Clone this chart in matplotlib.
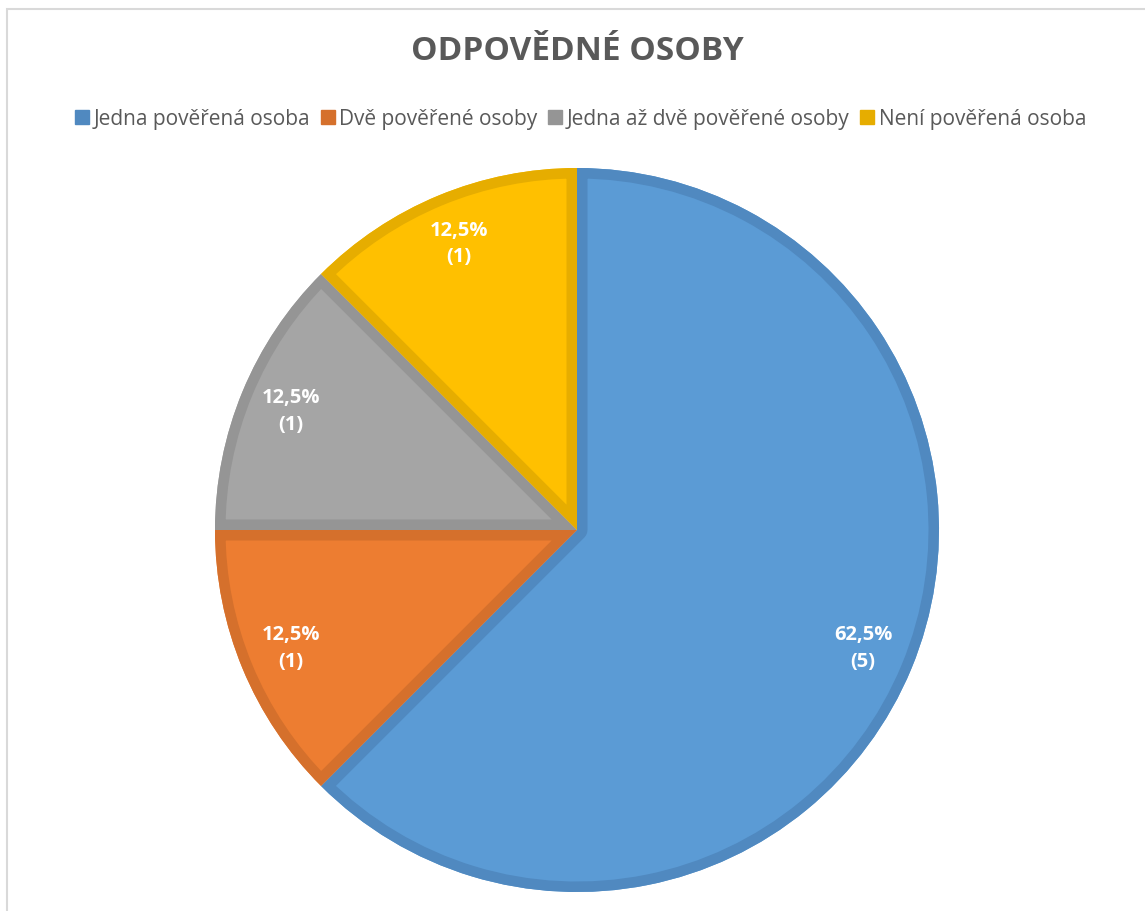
import matplotlib
matplotlib.use("Agg")
import matplotlib.pyplot as plt
from matplotlib.lines import Line2D
from matplotlib.patches import Rectangle, PathPatch

categories = ["Jedna pověřená osoba", "Dvě pověřené osoby",
              "Jedna až dvě pověřené osoby", "Není pověřená osoba"]
counts = [5, 1, 1, 1]
title = "ODPOVĚDNÉ OSOBY"

fills = ["#5B9BD5", "#ED7D31", "#A5A5A5", "#FFC000"]
edges = ["#5089C0", "#D5702C", "#959595", "#E6AD00"]

W, H = 1145, 911
fig = plt.figure(figsize=(W / 100, H / 100), dpi=100)
fig.patch.set_facecolor("white")
plt.rcParams['font.family'] = ['Open Sans', 'DejaVu Sans']

# chart frame
fig.patches.append(Rectangle((6.5 / W, -0.1), 2.0, (H - 8.5) / H + 0.1,
                             transform=fig.transFigure, fill=False,
                             edgecolor="#D9D9D9", linewidth=1.5))

cx, cy, R = 577, 530, 362
ax = fig.add_axes([(cx - R) / W, (H - cy - R) / H, 2 * R / W, 2 * R / H])
total = sum(counts)

def fmt(p):
    n = int(round(p * total / 100))
    return f"{p:.1f}".replace(".", ",") + f"%\n({n})"

border_px = 10.5
wedges, texts, autotexts = ax.pie(
    counts, colors=fills, startangle=90, counterclock=False,
    radius=1.0, autopct=fmt, pctdistance=0.855,
    wedgeprops=dict(linewidth=0),
    textprops=dict(color="white", fontsize=14.5, fontweight="bold",
                   linespacing=1.45))
# inner borders: stroke of double width clipped to the wedge itself
for w, e in zip(wedges, edges):
    pp = PathPatch(w.get_path(), transform=w.get_transform(), fill=False,
                   edgecolor=e, linewidth=2 * border_px * 0.72,
                   joinstyle="round", zorder=w.get_zorder() + 0.1)
    ax.add_patch(pp)
    pp.set_clip_path(w)
for t in autotexts:
    t.set_zorder(5)
ax.set_xlim(-1, 1)
ax.set_ylim(-1, 1)
ax.set_aspect("equal")
ax.axis("off")

fig.text(cx / W, 1 - 51 / H, title, ha="center", va="center",
         fontsize=24, fontweight="bold", color="#595959")

handles = [Line2D([], [], marker="s", linestyle="none", markersize=9.5,
                  markerfacecolor=e, markeredgecolor=e) for e in edges]
fig.legend(handles, categories, loc="center", bbox_to_anchor=(581 / W, 1 - 119 / H),
           ncol=4, frameon=False, fontsize=15, labelcolor="#595959",
           handlelength=0.6, handletextpad=0.25, columnspacing=0.55,
           borderpad=0)

fig.savefig("out.png", dpi=100, facecolor="white")
